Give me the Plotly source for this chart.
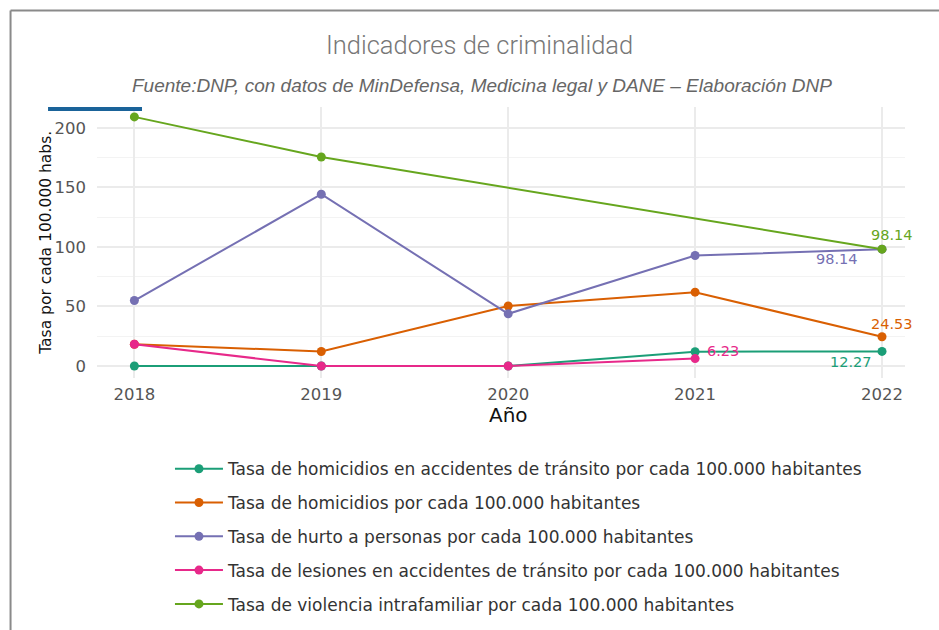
import plotly.graph_objects as go

# Años y series (tasa por cada 100.000 habitantes)
years = [2018, 2019, 2020, 2021, 2022]
homicidios_transito = [0, 0, 0, 12.0, 12.27]
homicidios = [18.3, 12.2, 50.4, 62.0, 24.53]
hurto = [55.0, 144.3, 43.8, 92.8, 98.14]
lesiones = [18.3, 0, 0, 6.23, None]
violencia = [209.3, 175.6, None, None, 98.14]

series_names = [
    "Tasa de homicidios en accidentes de tránsito por cada 100.000 habitantes",
    "Tasa de homicidios por cada 100.000 habitantes",
    "Tasa de hurto a personas por cada 100.000 habitantes",
    "Tasa de lesiones en accidentes de tránsito por cada 100.000 habitantes",
    "Tasa de violencia intrafamiliar por cada 100.000 habitantes",
]
series_values = [homicidios_transito, homicidios, hurto, lesiones, violencia]
colors = ["#1B9E77", "#D95F02", "#7570B3", "#E7298A", "#66A61E"]

# Desplazamiento (px) de la etiqueta del último valor de cada serie
label_shifts = [(-31, -11), (10, 13), (-45, -10), (28, 8), (10, 14)]

fig = go.Figure()
annotations = []
for name, vals, col, (dx, dy) in zip(series_names, series_values, colors, label_shifts):
    fig.add_trace(go.Scatter(
        x=years, y=vals, name=name, legendgroup=name,
        mode="lines+markers", connectgaps=True,
        line=dict(color=col, width=2),
        marker=dict(color=col, size=9),
    ))
    last = max(i for i, v in enumerate(vals) if v is not None)
    annotations.append(dict(
        x=years[last], y=vals[last], xref="x", yref="y",
        text=f"{vals[last]:.2f}", showarrow=False,
        xshift=dx, yshift=dy, xanchor="center", yanchor="middle",
        font=dict(color=col, size=14.5, family="DejaVu Sans"),
    ))

annotations += [
    dict(text="Indicadores de criminalidad", x=0.474, y=1.229,
         xref="paper", yref="paper", showarrow=False,
         xanchor="center", yanchor="middle",
         font=dict(family="Roboto", size=25.5, color="#777777", weight=300)),
    dict(text="<i>Fuente:DNP, con datos de MinDefensa, Medicina legal y DANE – Elaboración DNP</i>",
         x=0.477, y=1.081, xref="paper", yref="paper", showarrow=False,
         xanchor="center", yanchor="middle",
         font=dict(family="Liberation Sans", size=19, color="#666666")),
    dict(text="Tasa por cada 100.000 habs.", x=-0.064, y=0.5,
         xref="paper", yref="paper", showarrow=False, textangle=-90,
         xanchor="center", yanchor="middle",
         font=dict(family="DejaVu Sans", size=15.5, color="#111111")),
    dict(text="Año", x=0.509, y=-0.135, xref="paper", yref="paper",
         showarrow=False, xanchor="center", yanchor="middle",
         font=dict(family="DejaVu Sans", size=20, color="#111111")),
]

fig.update_layout(
    width=939, height=630,
    margin=dict(l=97, r=34, t=107, b=252, autoexpand=False),
    paper_bgcolor="white", plot_bgcolor="white",
    font=dict(family="DejaVu Sans", color="#555555"),
    showlegend=True,
    legend=dict(
        x=0.0903, y=-0.27, xanchor="left", yanchor="top",
        font=dict(size=17, color="#333333", family="DejaVu Sans"),
        itemwidth=48, traceorder="grouped", tracegroupgap=8.7,
        bgcolor="rgba(0,0,0,0)",
    ),
    xaxis=dict(
        range=[2017.8, 2022.123], tickvals=years, ticktext=[str(y) for y in years],
        showgrid=True, gridcolor="#ebebeb", gridwidth=1.6, zeroline=False,
        showline=False, ticks="", ticklabelstandoff=4,
        tickfont=dict(size=16.5, color="#555555"),
    ),
    yaxis=dict(
        range=[-10.1, 217.6], tickvals=[0, 50, 100, 150, 200],
        showgrid=True, gridcolor="#ebebeb", gridwidth=1.6, zeroline=False,
        showline=False, ticks="", ticklabelstandoff=10,
        tickfont=dict(size=16.5, color="#555555"),
        minor=dict(tickvals=[25, 75, 125, 175], showgrid=True,
                   gridcolor="#f3f3f3", gridwidth=1.2),
    ),
    annotations=annotations,
    shapes=[
        # marco gris superior e izquierdo
        dict(type="line", xref="paper", yref="paper", x0=-0.107, x1=1.05,
             y0=1.356, y1=1.356, line=dict(color="#8a8a8a", width=2)),
        dict(type="line", xref="paper", yref="paper", x0=-0.107, x1=-0.107,
             y0=1.356, y1=-0.95, line=dict(color="#8a8a8a", width=2)),
        # barra azul superior
        dict(type="line", xref="paper", yref="paper", x0=-0.0606, x1=0.0557,
             y0=0.9926, y1=0.9926, line=dict(color="#1a6399", width=4)),
    ],
)

fig.write_html("out.html")
